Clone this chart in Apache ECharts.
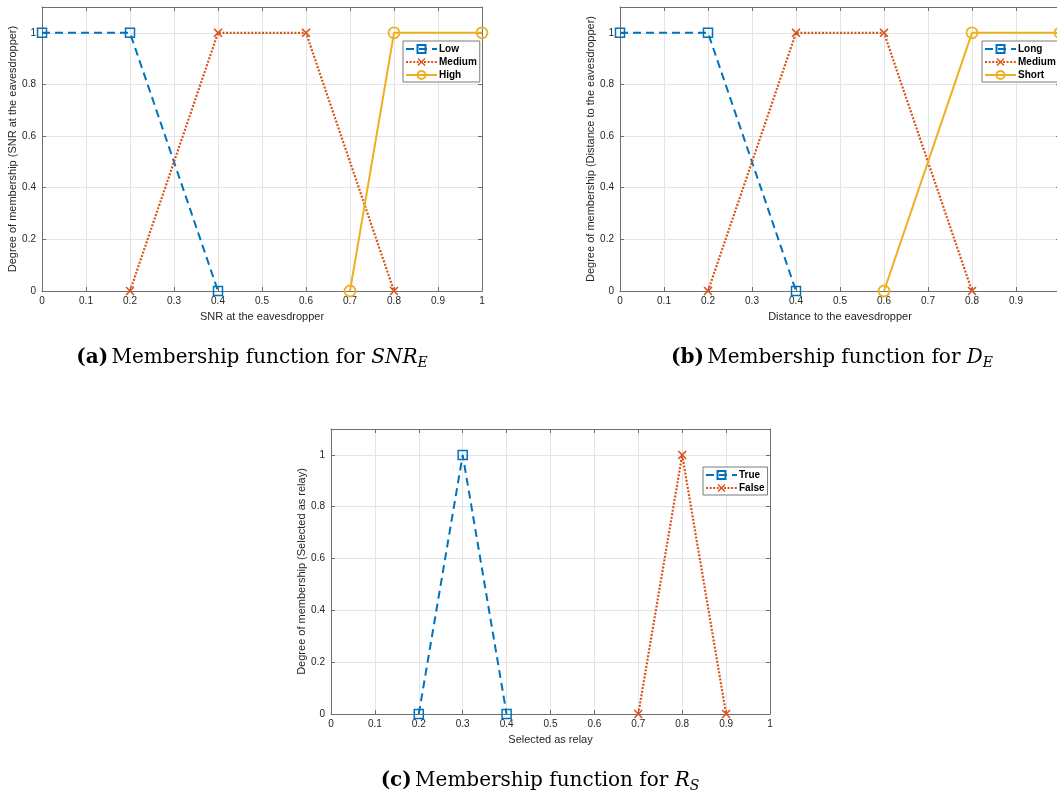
<!DOCTYPE html>
<html>
<head>
<meta charset="utf-8">
<script src="https://cdn.jsdelivr.net/npm/echarts@6/dist/echarts.min.js"></script>
<style>
html,body{margin:0;padding:0;background:#fff;overflow:hidden;width:1057px;height:795px;}
#c{width:1066px;height:795px;}
</style>
</head>
<body>
<div id="c"></div>
<script>
// ---- data ----
const snrNames = ['Low', 'Medium', 'High'];
const snrLow = [[0, 1], [0.2, 1], [0.4, 0]];
const snrMedium = [[0.2, 0], [0.4, 1], [0.6, 1], [0.8, 0]];
const snrHigh = [[0.7, 0], [0.8, 1], [1, 1]];

const distNames = ['Long', 'Medium', 'Short'];
const distLong = [[0, 1], [0.2, 1], [0.4, 0]];
const distMedium = [[0.2, 0], [0.4, 1], [0.6, 1], [0.8, 0]];
const distShort = [[0.6, 0], [0.8, 1], [1, 1]];

const relayNames = ['True', 'False'];
const relayTrue = [[0.2, 0], [0.3, 1], [0.4, 0]];
const relayFalse = [[0.7, 0], [0.8, 1], [0.9, 0]];

const xTitles = ['SNR at the eavesdropper', 'Distance to the eavesdropper', 'Selected as relay'];
const yTitles = ['Degree of membership (SNR at the eavesdropper)',
                 'Degree of membership (Distance to the eavesdropper)',
                 'Degree of membership (Selected as relay)'];
const captionTags = ['(a)', '(b)', '(c)'];
const captionText = 'Membership function for ';
const captionVars = [['SNR', 'E'], ['D', 'E'], ['R', 'S']];

// ---- styles ----
const BLUE = '#0072BD', ORANGE = '#D95319', YELLOW = '#EDB120';
const AX = '#6e6e6e', TXT = '#262626', GRIDC = '#e4e4e4';
const FONT = 'Liberation Sans, Arial, Helvetica, sans-serif';
const SERIF = 'DejaVu Serif, serif';
const XSYM = 'path://M0,1.2L1.2,0L5,3.8L8.8,0L10,1.2L6.2,5L10,8.8L8.8,10L5,6.2L1.2,10L0,8.8L3.8,5Z';

const grids = [
  {left: 42, top: 7, width: 440, height: 284},
  {left: 620, top: 7, width: 440, height: 284},
  {left: 331, top: 429, width: 439, height: 285}
];

const xAxes = [], yAxes = [];
grids.forEach((g, i) => {
  xAxes.push({
    type: 'value', gridIndex: i, min: 0, max: 1, interval: 0.1, position: 'bottom',
    name: xTitles[i], nameLocation: 'middle', nameGap: 20,
    nameTextStyle: {color: TXT, fontSize: 11, fontFamily: FONT},
    axisLine: {show: true, onZero: false, lineStyle: {color: AX, width: 1}},
    axisTick: {show: true, inside: true, length: 4, lineStyle: {color: AX}},
    axisLabel: {color: TXT, fontSize: 10, fontFamily: FONT, margin: 5,
      formatter: v => String(+v.toFixed(1))},
    splitLine: {show: true, lineStyle: {color: GRIDC, width: 1}}
  });
  xAxes.push({
    type: 'value', gridIndex: i, min: 0, max: 1, interval: 0.1, position: 'top',
    axisLine: {show: true, onZero: false, lineStyle: {color: AX, width: 1}},
    axisTick: {show: true, inside: true, length: 4, lineStyle: {color: AX}},
    axisLabel: {show: false}, splitLine: {show: false}
  });
  yAxes.push({
    type: 'value', gridIndex: i, min: 0, max: 1.1, interval: 0.2, position: 'left',
    name: yTitles[i], nameLocation: 'middle', nameGap: 21, nameRotate: 90,
    nameTextStyle: {color: TXT, fontSize: 11, fontFamily: FONT},
    axisLine: {show: true, onZero: false, lineStyle: {color: AX, width: 1}},
    axisTick: {show: true, inside: true, length: 4, lineStyle: {color: AX}},
    axisLabel: {color: TXT, fontSize: 10, fontFamily: FONT, margin: 6, showMaxLabel: false,
      formatter: v => (v > 1.05 ? '' : String(+v.toFixed(1)))},
    splitLine: {show: true, lineStyle: {color: GRIDC, width: 1}}
  });
  yAxes.push({
    type: 'value', gridIndex: i, min: 0, max: 1.1, interval: 0.2, position: 'right',
    axisLine: {show: true, onZero: false, lineStyle: {color: AX, width: 1}},
    axisTick: {show: true, inside: true, length: 4, lineStyle: {color: AX}},
    axisLabel: {show: false}, splitLine: {show: false}
  });
});

function dashedSeries(name, data, g) {
  return {name, type: 'line', data, xAxisIndex: g * 2, yAxisIndex: g * 2, clip: false,
    symbol: 'rect', symbolSize: 9,
    lineStyle: {color: BLUE, width: 2, type: [8, 5]},
    itemStyle: {color: 'rgba(255,255,255,0)', borderColor: BLUE, borderWidth: 1.5},
    emphasis: {disabled: true}, z: 3};
}
function dottedSeries(name, data, g) {
  return {name, type: 'line', data, xAxisIndex: g * 2, yAxisIndex: g * 2, clip: false,
    symbol: XSYM, symbolSize: 9,
    lineStyle: {color: ORANGE, width: 2.2, type: [2, 1.6]},
    itemStyle: {color: ORANGE, borderWidth: 0},
    emphasis: {disabled: true}, z: 4};
}
function solidSeries(name, data, g) {
  return {name, type: 'line', data, xAxisIndex: g * 2, yAxisIndex: g * 2, clip: false,
    symbol: 'circle', symbolSize: 11,
    lineStyle: {color: YELLOW, width: 2},
    itemStyle: {color: 'rgba(255,255,255,0)', borderColor: YELLOW, borderWidth: 1.8},
    emphasis: {disabled: true}, z: 5};
}

const series = [
  dashedSeries(snrNames[0], snrLow, 0),
  dottedSeries(snrNames[1], snrMedium, 0),
  solidSeries(snrNames[2], snrHigh, 0),
  dashedSeries(distNames[0], distLong, 1),
  dottedSeries(distNames[1], distMedium, 1),
  solidSeries(distNames[2], distShort, 1),
  dashedSeries(relayNames[0], relayTrue, 2),
  dottedSeries(relayNames[1], relayFalse, 2)
];

function legend(data, left, top) {
  return {data, left, top, orient: 'vertical', backgroundColor: '#fff',
    borderColor: '#7a7a7a', borderWidth: 1, borderRadius: 0,
    padding: [3, 3, 2, 2], itemGap: 3, itemWidth: 31, itemHeight: 10,
    selectedMode: false,
    textStyle: {color: '#000', fontSize: 10, fontWeight: 'bold', fontFamily: FONT, padding: [0, 0, 0, -3]}};
}

const captionPos = [[252, 358], [832, 358], [540, 781]];
const graphic = captionPos.map((p, i) => ({
  type: 'text', x: p[0], y: p[1], z: 10,
  style: {
    text: '{b|' + captionTags[i] + '} {n|' + captionText + '}{v|' + captionVars[i][0] + '}{s|' + captionVars[i][1] + '}',
    x: 0, y: 0, align: 'center', verticalAlign: 'middle',
    rich: {
      b: {fontFamily: SERIF, fontWeight: 'bold', fontSize: 20, fill: '#000', lineHeight: 26},
      n: {fontFamily: SERIF, fontSize: 20, fill: '#000', lineHeight: 26},
      v: {fontFamily: SERIF, fontStyle: 'italic', fontSize: 20, fill: '#000', lineHeight: 26},
      s: {fontFamily: SERIF, fontStyle: 'italic', fontSize: 14, fill: '#000', lineHeight: 15, padding: [11, 0, 0, 0], verticalAlign: 'top'}
    }
  }
}));

const chart = echarts.init(document.getElementById('c'), null, {renderer: 'canvas'});
chart.setOption({
  animation: false,
  backgroundColor: '#fff',
  grid: grids,
  xAxis: xAxes,
  yAxis: yAxes,
  legend: [legend(snrNames, 403, 41), legend(distNames, 982, 41), legend(relayNames, 703, 467)],
  series,
  graphic
});
</script>
</body>
</html>
